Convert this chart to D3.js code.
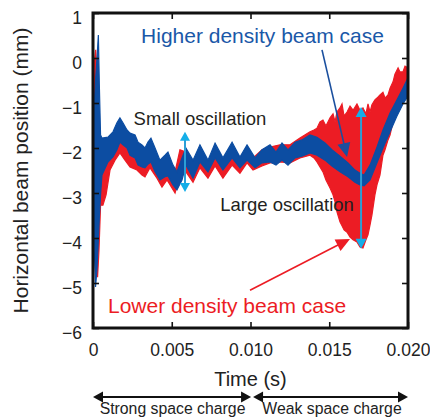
<!DOCTYPE html>
<html><head><meta charset="utf-8">
<script src="https://cdn.jsdelivr.net/npm/d3@7"></script>
<style>html,body{margin:0;padding:0;background:#fff;} svg{display:block;font-family:"Liberation Sans",Arial,Helvetica,sans-serif;}</style>
</head><body><svg id="c" width="430" height="417"></svg>
<script>
// ---- data (time in s, horizontal beam position in mm) ----
const blueTime  = [0.00006,0.00016,0.00025,0.00034,0.00041,0.00048,0.00057,0.00095,0.00127,0.00152,0.00171,0.0019,0.00216,0.00235,0.00267,0.00286,0.00311,0.0033,0.00349,0.00368,0.00394,0.00425,0.00457,0.00476,0.00508,0.00533,0.00565,0.0059,0.00635,0.00679,0.0073,0.00775,0.00825,0.00883,0.00933,0.00978,0.01029,0.01073,0.01124,0.01162,0.012,0.01238,0.01283,0.01327,0.01378,0.01422,0.01473,0.01517,0.01568,0.01619,0.01663,0.01695,0.01721,0.01759,0.01803,0.01841,0.01886,0.0193,0.01968,0.02];
const blueUpper = [-1.16,-0.49,-0.04,0.51,-0.71,-1.71,-1.78,-1.76,-1.64,-1.44,-1.33,-1.44,-1.6,-1.67,-1.71,-1.87,-1.93,-2.0,-1.87,-1.78,-2.0,-2.27,-2.16,-2.09,-2.38,-2.53,-2.22,-2.0,-2.27,-1.93,-2.27,-1.89,-2.22,-1.87,-2.2,-1.93,-2.22,-2.04,-1.93,-2.09,-1.89,-2.04,-1.87,-1.82,-1.71,-1.76,-1.89,-2.04,-2.18,-2.33,-2.49,-2.56,-2.6,-2.38,-1.98,-1.6,-1.22,-0.93,-0.67,-0.44];
const blueLower = [-4.04,-5.09,-4.71,-4.04,-3.49,-3.04,-2.6,-2.31,-2.2,-2.04,-1.87,-1.93,-2.0,-2.16,-2.22,-2.38,-2.42,-2.44,-2.36,-2.31,-2.53,-2.71,-2.64,-2.62,-2.82,-2.93,-2.71,-2.38,-2.67,-2.31,-2.53,-2.22,-2.49,-2.22,-2.44,-2.27,-2.44,-2.33,-2.31,-2.38,-2.27,-2.38,-2.22,-2.18,-2.11,-2.16,-2.27,-2.4,-2.53,-2.64,-2.76,-2.82,-2.84,-2.71,-2.33,-2.0,-1.64,-1.29,-1.02,-0.84];

const redTime  = [0.00003,0.0001,0.00017,0.00029,0.00038,0.00048,0.00063,0.00083,0.00108,0.0014,0.00171,0.00203,0.00235,0.00279,0.00311,0.0033,0.00362,0.00406,0.00438,0.0047,0.00521,0.00552,0.0059,0.00635,0.00679,0.0073,0.00775,0.00825,0.00883,0.00933,0.00978,0.01016,0.01073,0.01124,0.01187,0.01251,0.01314,0.01378,0.01403,0.01422,0.01441,0.0146,0.01479,0.01505,0.01524,0.01537,0.01549,0.01568,0.01581,0.01594,0.01613,0.01632,0.01651,0.01676,0.01695,0.01714,0.01733,0.01746,0.01759,0.01771,0.0179,0.01803,0.01822,0.01841,0.01854,0.01873,0.01886,0.01905,0.01917,0.01937,0.01949,0.01968,0.01981,0.02];
const redUpper = [-0.71,-0.04,0.18,-0.49,-1.38,-1.93,-2.04,-2.04,-1.93,-1.82,-1.71,-1.82,-1.93,-2.0,-2.09,-2.16,-2.04,-2.27,-2.38,-2.27,-2.53,-2.04,-2.09,-2.31,-2.09,-2.31,-2.04,-2.27,-2.04,-2.22,-2.04,-2.22,-2.04,-1.98,-1.93,-1.93,-1.78,-1.64,-1.6,-1.56,-1.42,-1.38,-1.51,-1.33,-1.24,-1.42,-1.2,-1.11,-1.02,-1.29,-1.2,-1.07,-1.16,-1.02,-1.16,-1.11,-1.24,-1.02,-1.2,-1.04,-0.93,-0.89,-0.82,-0.76,-0.89,-0.82,-0.67,-0.53,-0.36,-0.22,-0.31,-0.31,-0.18,-0.22];
const redLower = [-2.04,-3.6,-4.27,-4.87,-4.27,-3.27,-3.27,-3.04,-2.49,-2.27,-2.11,-2.27,-2.42,-2.49,-2.6,-2.64,-2.44,-2.67,-2.87,-2.71,-3.0,-2.6,-2.53,-2.76,-2.44,-2.67,-2.4,-2.67,-2.38,-2.56,-2.33,-2.49,-2.4,-2.33,-2.31,-2.33,-2.22,-2.16,-2.22,-2.31,-2.42,-2.53,-2.71,-2.89,-3.04,-3.2,-3.42,-3.64,-3.73,-3.82,-3.87,-3.98,-4.04,-4.09,-4.2,-4.22,-4.04,-3.93,-3.71,-3.49,-3.04,-2.82,-2.6,-2.16,-2.04,-1.82,-1.71,-1.42,-1.33,-1.16,-1.07,-0.89,-0.82,-0.71];

const xTicks = [0, 0.005, 0.010, 0.015, 0.020];
const xTickLabels = ["0", "0.005", "0.010", "0.015", "0.020"];
const yTicks = [1, 0, -1, -2, -3, -4, -5, -6];
const yTickLabels = ["1", "0", "\u22121", "\u22122", "\u22123", "\u22124", "\u22125", "\u22126"];

// annotation anchors in data units
const smallOscT = 0.00584, smallOscRange = [-1.64, -2.98];
const largeOscT = 0.01702, largeOscRange = [-1.09, -4.24];
const bluePointer = [[0.01454, 0.18], [0.01613, -2.2]];
const redPointer  = [[0.00997, -5.16], [0.01632, -4.02]];
const regionSplit = 0.0101;

// ---- drawing ----
const svg = d3.select("#c");
const x = d3.scaleLinear().domain([0, 0.02]).range([93, 408]);
const y = d3.scaleLinear().domain([-6, 1]).range([328, 13]);

const RED = "#ec1c24", BLUE = "#0c4da2", BLUE_TXT = "#1a58a8", CYAN = "#14aee8", CYAN_LINE = "#2b9fd6";

const area = d3.area().x(d => x(d.t)).y0(d => y(d.lo)).y1(d => y(d.hi));
const redData = redTime.map((t, i) => ({t, hi: redUpper[i], lo: redLower[i]}));
const blueData = blueTime.map((t, i) => ({t, hi: blueUpper[i], lo: blueLower[i]}));

svg.append("path").attr("d", area(redData)).attr("fill", RED).attr("stroke", RED).attr("stroke-width", 1.2).attr("stroke-linejoin", "miter");
svg.append("path").attr("d", area(blueData)).attr("fill", BLUE).attr("stroke", BLUE).attr("stroke-width", 1.2);

// axes (ticks inward on all 4 sides)
const gx = svg.append("g").attr("transform", `translate(0,${y(-6)})`)
  .call(d3.axisBottom(x).tickValues(xTicks).tickSize(-6).tickFormat((d, i) => xTickLabels[i]));
const gxTop = svg.append("g").attr("transform", `translate(0,${y(1)})`)
  .call(d3.axisTop(x).tickValues(xTicks).tickSize(-6).tickFormat(""));
const gy = svg.append("g").attr("transform", `translate(${x(0)},0)`)
  .call(d3.axisLeft(y).tickValues(yTicks).tickSize(-6).tickPadding(11).tickFormat((d, i) => yTickLabels[i]));
const gyR = svg.append("g").attr("transform", `translate(${x(0.02)},0)`)
  .call(d3.axisRight(y).tickValues(yTicks).tickSize(-6).tickFormat(""));
[gx, gxTop, gy, gyR].forEach(g => {
  g.select(".domain").remove();
  g.selectAll(".tick line").attr("stroke", "#111").attr("stroke-width", 1.6);
  g.selectAll("text").attr("fill", "#222").attr("font-size", "17.5px").attr("font-family", "Liberation Sans, Arial, sans-serif");
});
gx.selectAll("text").attr("y", 0).attr("dy", "28px");
gy.selectAll("text").attr("dy", "10px");

// frame
svg.append("rect").attr("x", x(0)).attr("y", y(1)).attr("width", x(0.02) - x(0)).attr("height", y(-6) - y(1))
  .attr("fill", "none").attr("stroke", "#111").attr("stroke-width", 3);

// helpers
function head(tipX, tipY, fromX, fromY, len, wid, color) {
  const a = Math.atan2(tipY - fromY, tipX - fromX);
  const bx = tipX - len * Math.cos(a), by = tipY - len * Math.sin(a);
  const px = -Math.sin(a) * wid / 2, py = Math.cos(a) * wid / 2;
  svg.append("path").attr("d", `M${tipX},${tipY}L${bx + px},${by + py}L${bx - px},${by - py}Z`).attr("fill", color);
}
function arrow(x1, y1, x2, y2, color, lw, len, wid, both, headColor) {
  const a = Math.atan2(y2 - y1, x2 - x1);
  const sx = both ? x1 + (len - 1) * Math.cos(a) : x1, sy = both ? y1 + (len - 1) * Math.sin(a) : y1;
  const ex = x2 - (len - 1) * Math.cos(a), ey = y2 - (len - 1) * Math.sin(a);
  svg.append("line").attr("x1", sx).attr("y1", sy).attr("x2", ex).attr("y2", ey).attr("stroke", color).attr("stroke-width", lw);
  head(x2, y2, x1, y1, len, wid, headColor || color);
  if (both) head(x1, y1, x2, y2, len, wid, headColor || color);
}

// oscillation arrows
arrow(x(smallOscT), y(smallOscRange[0]), x(smallOscT), y(smallOscRange[1]), CYAN_LINE, 2, 9, 10, true, CYAN);
arrow(x(largeOscT), y(largeOscRange[0]), x(largeOscT), y(largeOscRange[1]), CYAN_LINE, 2, 10, 11, true, CYAN);

// pointers
arrow(x(bluePointer[0][0]), y(bluePointer[0][1]), x(bluePointer[1][0]), y(bluePointer[1][1]), "#1a4f9e", 1.6, 14, 13, false);
arrow(x(redPointer[0][0]), y(redPointer[0][1]), x(redPointer[1][0]), y(redPointer[1][1]), RED, 1.6, 14, 13, false);

// texts
function txt(tx, ty, s, size, color, anchor) {
  return svg.append("text").attr("x", tx).attr("y", ty).attr("font-size", size + "px").attr("fill", color)
    .attr("text-anchor", anchor || "middle").text(s);
}
txt(x(0.01076), y(0.33), "Higher density beam case", 21, BLUE_TXT);
txt(x(0.00679), y(-1.49), "Small oscillation", 18.5, "#231f20");
txt(x(0.01232), y(-3.4), "Large oscillation", 18.5, "#231f20");
txt(x(0.00851), y(-5.67), "Lower density beam case", 21, RED);

// axis titles
txt(x(0.01), 386, "Time (s)", 20, "#222");
svg.append("text").attr("transform", `translate(28,${(y(1) + y(-6)) / 2}) rotate(-90)`)
  .attr("text-anchor", "middle").attr("font-size", "21px").attr("fill", "#222").text("Horizontal beam position (mm)");

// space-charge regime arrows
const ay = 397;
arrow(x(0), ay, x(regionSplit) - 1, ay, "#111", 2, 10, 11, true);
arrow(x(regionSplit) + 1, ay, x(0.02), ay, "#111", 2, 10, 11, true);
txt((x(0) + x(regionSplit)) / 2, 414, "Strong space charge", 15.8, "#222");
txt((x(regionSplit) + x(0.02)) / 2 + 2, 414, "Weak space charge", 15.8, "#222");
</script></body></html>
